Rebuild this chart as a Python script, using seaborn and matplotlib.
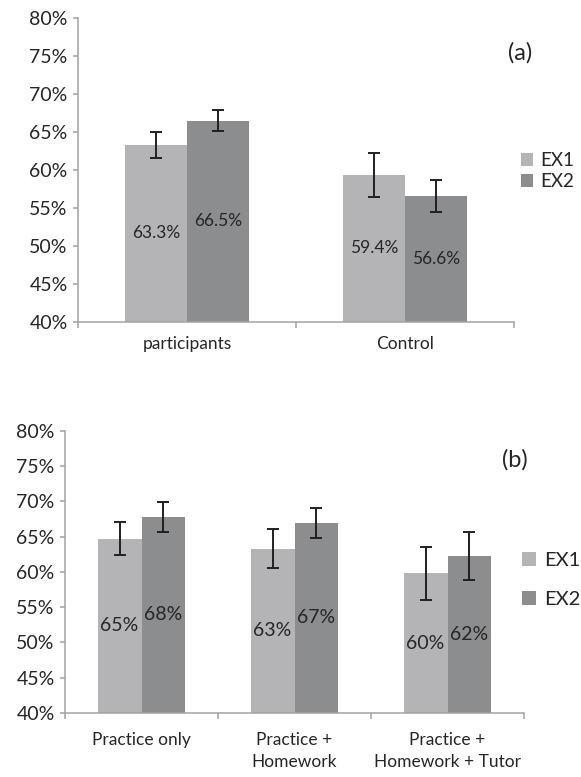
import pandas as pd
import seaborn as sns
import matplotlib.pyplot as plt
from matplotlib.ticker import FixedLocator, FuncFormatter

# ---- data ----
series = ['EX1', 'EX2']

groups_a = ['participants', 'Control']
ex1_a = [63.3, 59.4]
ex2_a = [66.5, 56.6]
err1_a = [1.7, 2.9]
err2_a = [1.35, 2.1]
text1_a = ['63.3%', '59.4%']
text2_a = ['66.5%', '56.6%']

groups_b = ['Practice only', 'Practice +\nHomework', 'Practice +\nHomework + Tutor']
ex1_b = [64.7, 63.3, 59.8]
ex2_b = [67.8, 66.95, 62.3]
err1_b = [2.3, 2.8, 3.75]
err2_b = [2.1, 2.15, 3.4]
text1_b = ['65%', '63%', '60%']
text2_b = ['68%', '67%', '62%']

yticks = [40, 45, 50, 55, 60, 65, 70, 75, 80]

colors = {'EX1': '#b4b4b6', 'EX2': '#8c8d8f'}
axis_grey = '#a3a3a3'
text_col = '#262626'

sns.set_style('white')
plt.rcParams['font.family'] = ['Lato', 'DejaVu Sans']

W, H = 581, 777
fig = plt.figure(figsize=(W / 100, H / 100), dpi=100)


def draw_panel(rect, groups, ex1, ex2, err1, err2, text1, text2,
               tick_fs, val_fs, cat_fs, cat_pad):
    ax = fig.add_axes(rect)
    n = len(groups)
    df = pd.DataFrame({
        'group': groups * 2,
        'series': ['EX1'] * n + ['EX2'] * n,
        'value': ex1 + ex2,
    })
    sns.barplot(data=df, x='group', y='value', hue='series', order=groups,
                hue_order=series, palette=colors, saturation=1, width=0.573,
                gap=0, errorbar=None, linewidth=0, legend=True, ax=ax)

    for cont, errs, texts in zip(ax.containers, [err1, err2], [text1, text2]):
        for bar, e, t in zip(cont, errs, texts):
            x = bar.get_x() + bar.get_width() / 2
            h = bar.get_height()
            ax.errorbar(x, h, yerr=e, fmt='none', ecolor='#231f20',
                        elinewidth=1.4, capsize=4.3, capthick=1.4, zorder=4)
            ax.text(x, (40 + h) / 2, t, ha='center', va='center',
                    fontsize=val_fs, color=text_col, zorder=5)

    ax.set_ylim(40, 80)
    ax.set_xlim(-0.5, n - 0.5)
    ax.set_xlabel('')
    ax.set_ylabel('')
    ax.yaxis.set_major_locator(FixedLocator(yticks))
    ax.yaxis.set_major_formatter(FuncFormatter(lambda v, p: f'{v:.0f}%'))
    ax.tick_params(axis='y', length=3.5, width=1.1, color=axis_grey,
                   labelsize=tick_fs, labelcolor=text_col, pad=4, left=True)
    ax.xaxis.set_minor_locator(FixedLocator([i - 0.5 for i in range(n + 1)]))
    ax.tick_params(axis='x', which='major', length=0, labelsize=cat_fs,
                   labelcolor=text_col, pad=cat_pad)
    ax.tick_params(axis='x', which='minor', length=4, width=1.1,
                   color=axis_grey, bottom=True)
    for lbl in ax.get_xticklabels():
        lbl.set_linespacing(1.4)
    sns.despine(ax=ax)
    for s in ['left', 'bottom']:
        ax.spines[s].set_color(axis_grey)
        ax.spines[s].set_linewidth(1.1)
    handles, labels = ax.get_legend_handles_labels()
    ax.get_legend().remove()
    return ax, handles, labels


# panel (a)
ax_a, h_a, l_a = draw_panel([78 / W, 1 - 322 / H, 436 / W, 304 / H],
                            groups_a, ex1_a, ex2_a, err1_a, err2_a,
                            text1_a, text2_a, 14, 12.5, 12.5, 10)
fig.legend(h_a, l_a, loc='center left', bbox_to_anchor=(521 / W, 1 - 171 / H),
           frameon=False, fontsize=13.5, handlelength=0.65, handleheight=0.65,
           handletextpad=0.4, labelspacing=0.2, borderpad=0, borderaxespad=0,
           labelcolor=text_col)
fig.text(520 / W, 1 - 53 / H, '(a)', ha='center', va='center', fontsize=17,
         color=text_col)

# panel (b)
ax_b, h_b, l_b = draw_panel([65 / W, 1 - 713 / H, 459 / W, 282.3 / H],
                            groups_b, ex1_b, ex2_b, err1_b, err2_b,
                            text1_b, text2_b, 14, 14, 12.5, 14)
fig.legend(h_b, l_b, loc='center left', bbox_to_anchor=(522 / W, 1 - 580 / H),
           frameon=False, fontsize=14.5, handlelength=0.7, handleheight=0.7,
           handletextpad=0.4, labelspacing=1.1, borderpad=0, borderaxespad=0,
           labelcolor=text_col)
fig.text(515 / W, 1 - 460 / H, '(b)', ha='center', va='center', fontsize=17,
         color=text_col)

fig.savefig('out.png', dpi=100)
